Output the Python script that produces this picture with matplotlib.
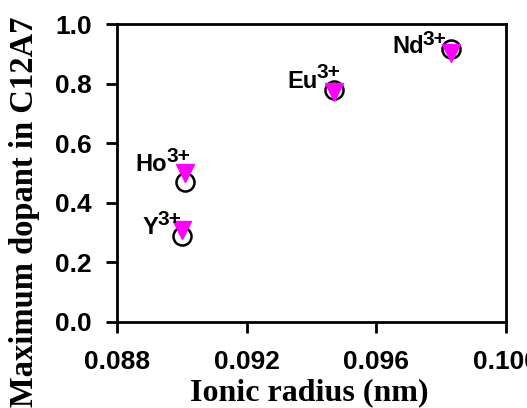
import matplotlib
matplotlib.use('Agg')
import matplotlib.pyplot as plt

# ionic radius (nm) of the dopant ions
ions = ['Y', 'Ho', 'Eu', 'Nd']
charge = ['3+', '3+', '3+', '3+']
radius = [0.0900, 0.0901, 0.0947, 0.0983]
# two estimates of the maximum dopant level
dopant_circle = [0.29, 0.47, 0.78, 0.915]
dopant_triangle = [0.31, 0.50, 0.773, 0.904]

xticks = [0.088, 0.092, 0.096, 0.100]
xticklabels = ['0.088', '0.092', '0.096', '0.100']
yticks = [0.0, 0.2, 0.4, 0.6, 0.8, 1.0]

plt.rcParams['font.family'] = ['Liberation Sans', 'DejaVu Sans']

fig = plt.figure(figsize=(5.27, 4.08), dpi=100)
ax = fig.add_axes([0.222, 0.211, 0.738, 0.730])

ax.plot(radius, dopant_circle, 'o', ms=13, mfc='none', mec='black', mew=1.8)
ax.plot(radius, dopant_triangle, 'v', ms=13, color='#ff00ff', mec='#ff00ff')

# label placement in pixels from the circle: (name right edge, name baseline, charge baseline)
label_off = [(-23, 2, 11), (-18, 11, 20), (-17, 2, 12), (-27, -4, 4)]
for name, q, x, y, off in zip(ions, charge, radius, dopant_circle, label_off):
    ax.annotate(name, (x, y), xytext=(off[0], off[1]), textcoords='offset pixels',
                ha='right', va='baseline', fontsize=17, fontweight='bold')
    ax.annotate(q, (x, y), xytext=(off[0] - 1, off[2]), textcoords='offset pixels',
                ha='left', va='baseline', fontsize=15, fontweight='bold')

ax.set_xlim(0.088, 0.100)
ax.set_ylim(0.0, 1.0)
ax.set_xticks(xticks)
ax.set_xticklabels(xticklabels)
ax.set_yticks(yticks)
ax.set_yticklabels(['%.1f' % t for t in yticks])
for lab in ax.get_xticklabels() + ax.get_yticklabels():
    lab.set_fontweight('bold')
    lab.set_fontsize(19)
ax.tick_params(direction='out', length=8, width=2)
ax.tick_params(axis='x', pad=12)
ax.tick_params(axis='y', pad=10)
for sp in ax.spines.values():
    sp.set_linewidth(2)

ax.set_xlabel('Ionic radius (nm)', family='Liberation Serif', fontweight='bold',
              fontsize=23)
ax.xaxis.set_label_coords(0.494, -0.188)
ax.set_ylabel('Maximum dopant in C12A7', family='Liberation Serif', fontweight='bold',
              fontsize=23.5)
ax.yaxis.set_label_coords(-0.198, 0.369)

fig.savefig('out.png', dpi=100)
